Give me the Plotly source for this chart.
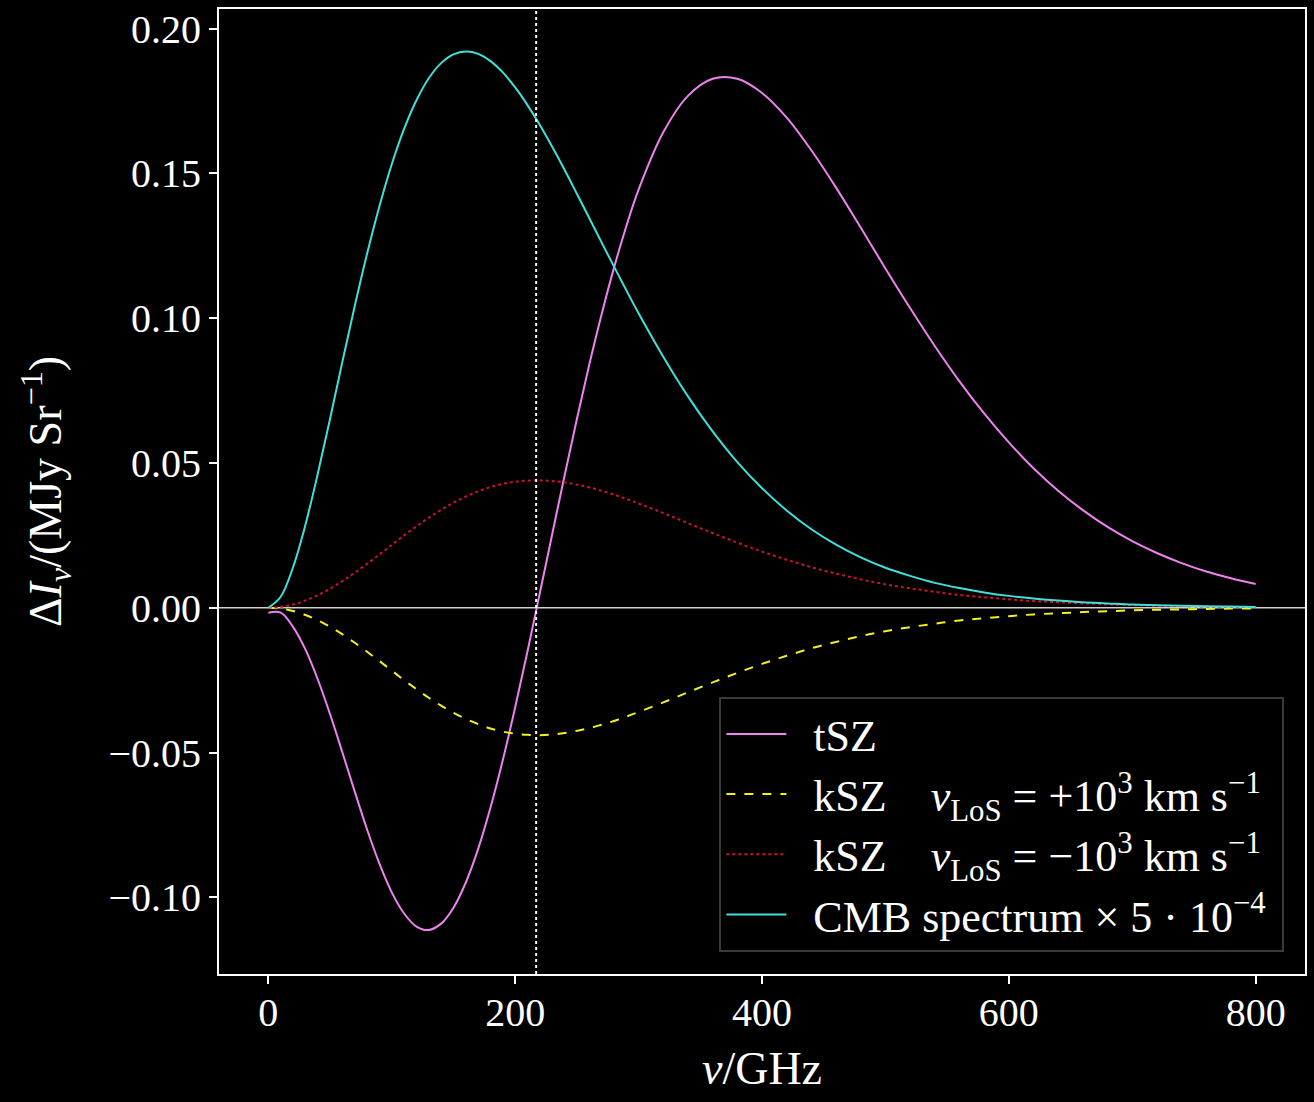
import plotly.graph_objects as go

# ---- data ----
nu_GHz = [0, 10, 20, 30, 40, 50, 60, 70, 80, 90, 100, 110, 120, 130, 140, 150, 160, 170,
          180, 190, 200, 210, 220, 230, 240, 250, 260, 270, 280, 290, 300,
          320, 340, 360, 380, 400, 420, 440, 460, 480, 500, 520, 540, 560, 580, 600,
          620, 640, 660, 680, 700, 720, 740, 760, 780, 800]

tsz = [-0.0017, -0.0017, -0.0066, -0.0144, -0.0247, -0.0368, -0.0500, -0.0635, -0.0766,
       -0.0884, -0.0983, -0.1056, -0.1101, -0.1113, -0.1091, -0.1036, -0.0949, -0.0833,
       -0.0690, -0.0526, -0.0344, -0.0150, 0.0051, 0.0254, 0.0456, 0.0652, 0.0839, 0.1013,
       0.1173, 0.1317, 0.1444,
       0.1642, 0.1768, 0.1827, 0.1827, 0.1778, 0.1693, 0.1580, 0.1451, 0.1313, 0.1172,
       0.1035, 0.0904, 0.0782, 0.0671, 0.0571, 0.0482, 0.0404, 0.0337, 0.0279, 0.0230,
       0.0189, 0.0154, 0.0125, 0.0102, 0.0082]

ksz_mag = [0.0, 0.0003, 0.0011, 0.0025, 0.0043, 0.0066, 0.0092, 0.0121, 0.0152, 0.0184,
           0.0217, 0.0250, 0.0281, 0.0311, 0.0338, 0.0363, 0.0384, 0.0402, 0.0417, 0.0428,
           0.0435, 0.0439, 0.0440, 0.0438, 0.0433, 0.0425, 0.0416, 0.0404, 0.0391, 0.0376,
           0.0360,
           0.0327, 0.0292, 0.0258, 0.0225, 0.0194, 0.0166, 0.0140, 0.0118, 0.0098, 0.0081,
           0.0067, 0.0055, 0.0044, 0.0036, 0.0029, 0.0023, 0.0019, 0.0015, 0.0012, 0.0009,
           0.0007, 0.0006, 0.0004, 0.0003, 0.0003]
ksz_pos = [-v for v in ksz_mag]   # v_LoS = +1e3 km/s
ksz_neg = list(ksz_mag)           # v_LoS = -1e3 km/s

cmb = [0.0, 0.0038, 0.0140, 0.0286, 0.0462, 0.0653, 0.0850, 0.1042, 0.1223, 0.1387,
       0.1532, 0.1654, 0.1753, 0.1829, 0.1881, 0.1911, 0.1921, 0.1913, 0.1888, 0.1849,
       0.1797, 0.1736, 0.1667, 0.1592, 0.1513, 0.1430, 0.1346, 0.1262, 0.1179, 0.1097,
       0.1017,
       0.0867, 0.0730, 0.0609, 0.0503, 0.0413, 0.0336, 0.0271, 0.0218, 0.0174, 0.0138,
       0.0110, 0.0086, 0.0068, 0.0053, 0.0041, 0.0032, 0.0025, 0.0019, 0.0015, 0.0011,
       0.0009, 0.0007, 0.0005, 0.0004, 0.0003]

nu_null = 217
x_ticks = [0, 200, 400, 600, 800]
x_ticklabels = ["0", "200", "400", "600", "800"]
y_ticks = [-0.10, -0.05, 0.00, 0.05, 0.10, 0.15, 0.20]
y_ticklabels = ["\u22120.10", "\u22120.05", "0.00", "0.05", "0.10", "0.15", "0.20"]

GAP = "\u00a0\u00a0"
names = [
    GAP + "tSZ",
    GAP + "kSZ    <i>v</i><sub>LoS</sub> = +10<sup>3</sup> km s<sup>\u22121</sup>\u00a0",
    GAP + "kSZ    <i>v</i><sub>LoS</sub> = \u221210<sup>3</sup> km s<sup>\u22121</sup>\u00a0",
    GAP + "CMB spectrum \u00d7 5 \u00b7 10<sup>\u22124</sup>\u00a0",
]

FONT = "Liberation Serif, DejaVu Serif, serif"

fig = go.Figure()

# zero line and null-frequency line
fig.add_hline(y=0, line=dict(color="#cfcfcf", width=1.5), layer="below")
fig.add_vline(x=nu_null, line=dict(color="white", width=2, dash="dot"))

fig.add_trace(go.Scatter(x=nu_GHz, y=tsz, mode="lines", name=names[0],
                         line=dict(color="#ee82ee", width=2, shape="spline")))
fig.add_trace(go.Scatter(x=nu_GHz, y=ksz_pos, mode="lines", name=names[1],
                         line=dict(color="#f2f024", width=2, dash="dash", shape="spline")))
fig.add_trace(go.Scatter(x=nu_GHz, y=ksz_neg, mode="lines", name=names[2],
                         line=dict(color="#c8142c", width=2, dash="dot", shape="spline")))
fig.add_trace(go.Scatter(x=nu_GHz, y=cmb, mode="lines", name=names[3],
                         line=dict(color="#3ee0dc", width=2, shape="spline")))

axis_common = dict(
    showgrid=False, zeroline=False,
    showline=True, linecolor="white", linewidth=2, mirror=True,
    ticks="outside", ticklen=8, tickwidth=1.5, tickcolor="white",
    tickfont=dict(family=FONT, size=40, color="white"),
)

fig.update_xaxes(range=[-40, 840], tickvals=x_ticks, ticktext=x_ticklabels,
                 ticklabelstandoff=-6,
                 title=dict(text="<i>\u03bd</i>/GHz", font=dict(family=FONT, size=46, color="white"),
                            standoff=18),
                 **axis_common)
fig.update_yaxes(range=[-0.1265, 0.2068], tickvals=y_ticks, ticktext=y_ticklabels,
                 title=dict(text="\u0394<i>I</i><sub><i>\u03bd</i></sub>/(MJy Sr<sup>\u22121</sup>)",
                            font=dict(family=FONT, size=46, color="white"), standoff=32),
                 **axis_common)

fig.update_layout(
    width=1314, height=1102,
    paper_bgcolor="black", plot_bgcolor="black",
    margin=dict(l=219, r=8, t=7, b=128),
    font=dict(family=FONT, color="white"),
    showlegend=True,
    legend=dict(
        x=0.981, y=0.023, xanchor="right", yanchor="bottom",
        bgcolor="rgba(0,0,0,0.8)", bordercolor="#3a3a3a", borderwidth=2,
        font=dict(family=FONT, size=44, color="white"),
        itemwidth=60, tracegroupgap=4,
    ),
)

fig.write_html(
    "out.html",
    config={"displayModeBar": False},
    post_script="document.body.style.margin='0';document.body.style.background='black';",
)
